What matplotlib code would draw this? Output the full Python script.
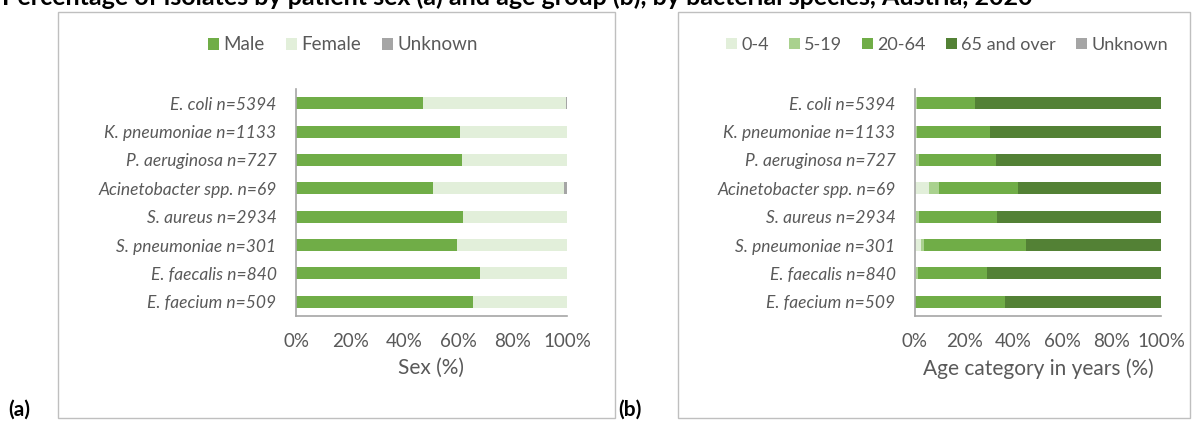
import numpy as np
import matplotlib
matplotlib.use('Agg')
import matplotlib.pyplot as plt
from matplotlib.patches import Rectangle

plt.rcParams['font.family'] = ['Lato', 'DejaVu Sans']

species = ['E. coli n=5394', 'K. pneumoniae n=1133', 'P. aeruginosa n=727',
           'Acinetobacter spp. n=69', 'S. aureus n=2934', 'S. pneumoniae n=301',
           'E. faecalis n=840', 'E. faecium n=509']

# panel (a) sex, %
male = [47.0, 60.4, 61.3, 50.7, 61.6, 59.3, 67.8, 65.3]
female = [52.6, 39.6, 38.7, 48.1, 38.4, 40.7, 32.2, 34.7]
sex_unknown = [0.4, 0.0, 0.0, 1.2, 0.0, 0.0, 0.0, 0.0]

# panel (b) age group, %
age_0_4 = [0.5, 0.4, 0.3, 5.6, 0.4, 2.4, 0.3, 0.0]
age_5_19 = [0.5, 0.5, 1.2, 4.1, 1.2, 1.2, 0.8, 0.1]
age_20_64 = [23.4, 29.7, 31.4, 32.2, 31.7, 41.4, 28.2, 36.3]
age_65 = [75.6, 69.4, 67.1, 58.1, 66.7, 55.0, 70.7, 63.6]
age_unknown = [0.0, 0.0, 0.0, 0.0, 0.0, 0.0, 0.0, 0.0]

txt = '#595959'
W, H = 1197, 421
fig = plt.figure(figsize=(W / 100, H / 100), dpi=100)


def px_axes(x0, x1, y0, y1):
    return fig.add_axes([x0 / W, 1 - y1 / H, (x1 - x0) / W, (y1 - y0) / H])


def style(ax, xlabel):
    ax.set_xlim(0, 100)
    ax.set_ylim(len(species) - 0.5, -0.5)
    ax.set_yticks(range(len(species)))
    ax.set_yticklabels(species, fontstyle='italic', fontsize=12.5, color=txt)
    ax.set_xticks([0, 20, 40, 60, 80, 100])
    ax.set_xticklabels(['0%', '20%', '40%', '60%', '80%', '100%'], fontsize=13.5, color=txt)
    ax.tick_params(axis='both', length=0)
    ax.tick_params(axis='x', pad=12)
    ax.tick_params(axis='y', pad=14)
    for s in ['top', 'right']:
        ax.spines[s].set_visible(False)
    for s in ['left', 'bottom']:
        ax.spines[s].set_color('#A6A6A6')
        ax.spines[s].set_linewidth(1.2)
    ax.set_xlabel(xlabel, fontsize=15, color=txt, labelpad=6)


def stack(ax, series, colors, labels):
    y = np.arange(len(species))
    left = np.zeros(len(species))
    handles = []
    for vals, c, lab in zip(series, colors, labels):
        h = ax.barh(y, vals, left=left, height=0.42, color=c, label=lab)
        handles.append(h)
        left += np.array(vals)
    return handles


# frames
fig.patches.append(Rectangle((58 / W, 1 - 418 / H), (615 - 58) / W, (418 - 12) / H,
                             transform=fig.transFigure, fill=False, edgecolor='#BFBFBF', lw=1))
fig.patches.append(Rectangle((678 / W, 1 - 418 / H), (1190 - 678) / W, (418 - 12) / H,
                             transform=fig.transFigure, fill=False, edgecolor='#BFBFBF', lw=1))

ax1 = px_axes(296, 567, 89, 316)
h1 = stack(ax1, [male, female, sex_unknown], ['#70AD47', '#E2EFDA', '#A5A5A5'],
           ['Male', 'Female', 'Unknown'])
style(ax1, 'Sex (%)')
fig.legend(handles=h1, loc='center', bbox_to_anchor=(343 / W, 1 - 45 / H), ncol=3,
           frameon=False, fontsize=13.5, labelcolor=txt, handlelength=0.6, handleheight=0.6,
           handletextpad=0.25, columnspacing=1.1)

ax2 = px_axes(915, 1161, 89, 316)
h2 = stack(ax2, [age_0_4, age_5_19, age_20_64, age_65, age_unknown],
           ['#E2EFDA', '#A9D18E', '#70AD47', '#538135', '#A5A5A5'],
           ['0-4', '5-19', '20-64', '65 and over', 'Unknown'])
style(ax2, 'Age category in years (%)')
fig.legend(handles=h2, loc='center', bbox_to_anchor=(947 / W, 1 - 45 / H), ncol=5,
           frameon=False, fontsize=13, labelcolor=txt, handlelength=0.6, handleheight=0.6,
           handletextpad=0.25, columnspacing=1.1)

fig.text(0.002, 1 - 5 / H, 'Percentage of isolates by patient sex (a) and age group (b), by bacterial species, Austria, 2020',
         fontsize=18, fontweight='bold', va='baseline', ha='left', color='#000000')
fig.text(8 / W, 1 - 416 / H, '(a)', fontsize=15, fontweight='bold', va='baseline')
fig.text(618 / W, 1 - 416 / H, '(b)', fontsize=15, fontweight='bold', va='baseline')

fig.savefig('out.png', dpi=100)
